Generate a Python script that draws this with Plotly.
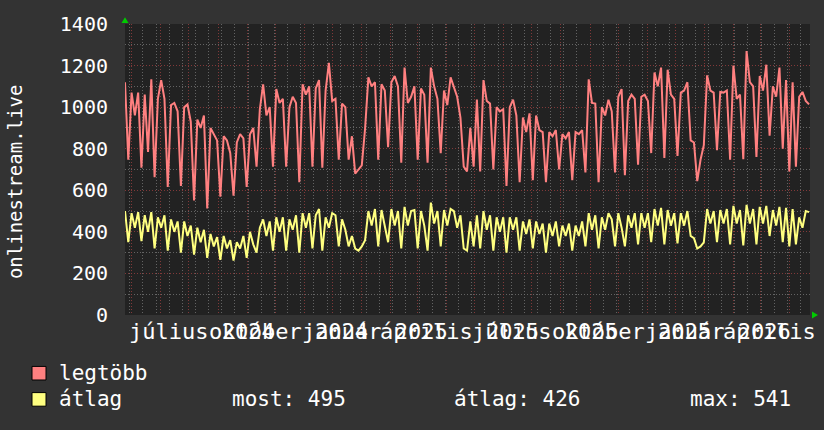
import pandas as pd
import plotly.graph_objects as go

# ---------------- data ----------------
start_date = "2024-04-24"
end_date = "2026-04-23"
step_hours = 84  # one sample every 3.5 days

legtobb = [
    1120, 747, 1070, 960, 1070, 709, 1060, 784, 1134, 663,
    1040, 1130, 1040, 616, 1010, 1020, 980, 621, 1000, 1013,
    930, 551, 940, 900, 960, 513, 900, 870, 840, 569,
    860, 840, 780, 574, 830, 870, 850, 616, 870, 900,
    714, 990, 1110, 960, 1000, 714, 1087, 1020, 1040, 714,
    1000, 1050, 1020, 639, 1110, 1060, 1100, 714, 1090, 1130,
    709, 1080, 1213, 1030, 1040, 747, 1017, 1000, 747, 860,
    680, 700, 720, 896, 1143, 1100, 1120, 747, 1110, 1080,
    807, 1120, 1150, 1100, 733, 1190, 1020, 1050, 1100, 747,
    1090, 1060, 733, 1190, 1100, 1040, 779, 1080, 1010, 1143,
    1100, 1050, 950, 714, 691, 900, 714, 1036, 691, 1130,
    1030, 1017, 700, 1000, 980, 990, 621, 1000, 1036, 960,
    639, 950, 880, 970, 649, 960, 890, 880, 639, 880,
    860, 890, 700, 870, 850, 880, 649, 880, 870, 890,
    686, 1134, 1020, 1017, 639, 1000, 960, 1036, 980, 686,
    1050, 1087, 672, 1030, 1060, 1040, 723, 1050, 1060, 1030,
    779, 1167, 1100, 1190, 756, 1180, 1060, 1040, 765, 1070,
    1080, 1120, 840, 830, 644, 747, 817, 1153, 1080, 1070,
    793, 1073, 1070, 1080, 747, 1200, 1040, 1060, 750, 1270,
    1120, 1100, 760, 1150, 1080, 1204, 863, 1100, 1050, 1190,
    800, 1130, 691, 1120, 714, 1050, 1073, 1030, 1013,
]

atlag = [
    500, 350, 490, 420, 495, 355, 480, 400, 495, 320,
    470, 420, 480, 310, 460, 400, 450, 300, 450, 380,
    430, 290, 420, 350, 410, 275, 390, 330, 375, 265,
    380, 320, 360, 262, 350, 320, 380, 275, 400, 340,
    300, 420, 460, 380, 450, 310, 470, 400, 470, 310,
    460, 410, 480, 300, 490, 420, 490, 320, 480, 510,
    310, 470, 420, 490, 480, 330, 460, 410, 330, 380,
    320, 310, 330, 360, 500, 430, 510, 330, 505, 420,
    350, 510, 430, 500, 320, 520, 430, 500, 505, 320,
    500, 430, 310, 541, 440, 500, 330, 505, 430, 510,
    500, 420, 480, 320, 310, 450, 330, 480, 320, 500,
    410, 480, 310, 470, 400, 470, 300, 470, 410, 470,
    310, 450, 390, 460, 320, 450, 390, 440, 300, 440,
    380, 450, 330, 430, 380, 440, 310, 430, 380, 450,
    330, 490, 410, 480, 320, 470, 410, 490, 460, 330,
    490, 420, 330, 480, 420, 490, 340, 490, 420, 490,
    350, 510, 430, 515, 340, 505, 430, 490, 345, 490,
    430, 500, 380, 370, 320, 330, 350, 510, 440, 500,
    350, 505, 440, 510, 340, 525, 440, 505, 335, 530,
    440, 510, 340, 520, 440, 525, 380, 505, 430, 520,
    350, 515, 330, 510, 340, 470, 420, 500, 495,
]

x_labels = ["július 2024", "október 2024", "január 2025", "április 2025",
            "július 2025", "október 2025", "január 2026", "április 2026"]
x_label_dates = ["2024-07-15", "2024-10-15", "2025-01-15", "2025-04-15",
                 "2025-07-15", "2025-10-15", "2026-01-15", "2026-04-15"]

series_names = ["legtöbb", "átlag"]
series_colors = ["#ff8080", "#ffff80"]
stat_texts = ["most: 495", "átlag: 426", "max: 541"]
y_title = "onlinestream.live"

# ---------------- figure ----------------
W, H = 824, 430
L, R, T, B = 125, 14, 15, 115
PW, PH = W - L - R, H - T - B


def px(x):
    return (x - L) / PW


def py(y):
    return (T + PH - y) / PH


dates = pd.date_range(start_date, periods=len(legtobb), freq=f"{step_hours}h")

FONT = "DejaVu Sans Mono"
fig = go.Figure()
fig.add_trace(go.Scatter(x=dates, y=legtobb, mode="lines", name=series_names[0],
                         line=dict(color=series_colors[0], width=2)))
fig.add_trace(go.Scatter(x=dates, y=atlag, mode="lines", name=series_names[1],
                         line=dict(color=series_colors[1], width=2)))

major_grid = "rgba(140,60,60,0.9)"
minor_grid = "rgba(110,110,110,0.85)"
DOTS = "1px,2px"

fig.update_layout(
    width=W, height=H,
    margin=dict(l=L, r=R, t=T, b=B, pad=0),
    paper_bgcolor="#333333",
    plot_bgcolor="#222222",
    showlegend=False,
    font=dict(family=FONT, color="white", size=20),
    xaxis=dict(
        type="date", range=[start_date, end_date],
        showticklabels=False, ticks="",
        tick0="2024-05-01", dtick="M1",
        showgrid=True, gridcolor=major_grid, griddash=DOTS, gridwidth=1,
        minor=dict(dtick=14 * 86400000, tick0="2024-04-29", showgrid=True,
                   gridcolor=minor_grid, griddash=DOTS, gridwidth=1),
        zeroline=False, showline=False,
    ),
    yaxis=dict(
        range=[0, 1400], dtick=200, tick0=0,
        showgrid=True, gridcolor=major_grid, griddash=DOTS, gridwidth=1,
        minor=dict(dtick=100, showgrid=True, gridcolor=minor_grid,
                   griddash=DOTS, gridwidth=1),
        ticks="", ticklabelstandoff=16,
        tickfont=dict(family=FONT, size=20, color="white"),
        zeroline=False, showline=False,
    ),
)

annotations = []
for txt, d in zip(x_labels, x_label_dates):
    annotations.append(dict(
        x=d, xref="x", y=py(317), yref="paper", text=txt, showarrow=False,
        xanchor="center", yanchor="top",
        font=dict(family=FONT, size=22, color="white")))

annotations.append(dict(
    x=px(15), y=py(178), xref="paper", yref="paper", text=y_title,
    textangle=-90, showarrow=False, xanchor="center", yanchor="middle",
    font=dict(family=FONT, size=19, color="white")))

legend_rows = [375, 402]
shapes = []
for name, color, yc in zip(series_names, series_colors, legend_rows):
    shapes.append(dict(type="rect", xref="paper", yref="paper",
                       x0=px(32), x1=px(46), y0=py(yc + 7), y1=py(yc - 7),
                       fillcolor=color, line=dict(color="black", width=1)))
    annotations.append(dict(x=px(57), y=py(yc), xref="paper", yref="paper",
                            text=name, showarrow=False, xanchor="left",
                            yanchor="middle",
                            font=dict(family=FONT, size=21, color="white")))

for txt, xs in zip(stat_texts, [230, 452, 688]):
    annotations.append(dict(x=px(xs), y=py(legend_rows[1]), xref="paper",
                            yref="paper", text=txt, showarrow=False,
                            xanchor="left", yanchor="middle",
                            font=dict(family=FONT, size=21, color="white")))

# green axis arrows
shapes.append(dict(type="path", xref="paper", yref="paper",
                   path=f"M {px(121.5)},{py(14)} L {px(125)},{py(8)} L {px(128.5)},{py(14)} Z",
                   fillcolor="#00cc00", line=dict(color="#00cc00", width=0)))
shapes.append(dict(type="path", xref="paper", yref="paper",
                   path=f"M {px(812)},{py(311.5)} L {px(818)},{py(315)} L {px(812)},{py(318.5)} Z",
                   fillcolor="#00cc00", line=dict(color="#00cc00", width=0)))

fig.update_layout(annotations=annotations, shapes=shapes)

fig.write_html("out.html", config={"displayModeBar": False},
               post_script="document.body.style.margin='0';")
